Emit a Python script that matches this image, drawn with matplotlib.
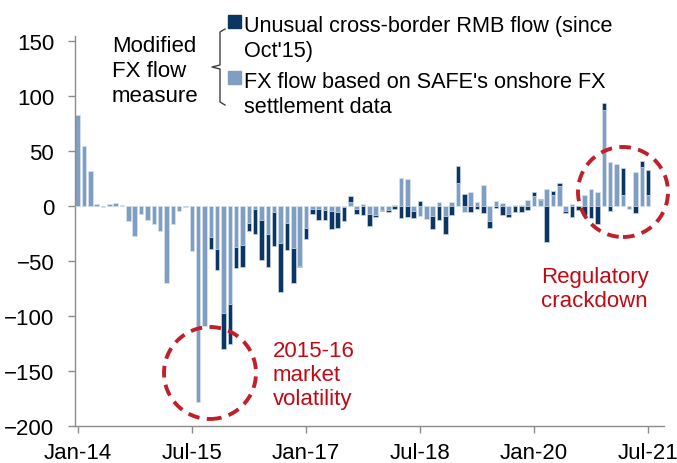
import matplotlib
matplotlib.use("Agg")
import matplotlib.pyplot as plt
import numpy as np
from matplotlib.patches import Ellipse, Rectangle
from matplotlib.lines import Line2D

plt.rcParams['font.family'] = ['Liberation Sans', 'DejaVu Sans']

# Monthly, Jan-14 .. Jul-21 (USD bn)
tick_labels = ["Jan-14", "Jul-15", "Jan-17", "Jul-18", "Jan-20", "Jul-21"]
tick_months = [0, 18, 36, 54, 72, 90]

safe_fx = [83, 55, 32, 2, -1, 2, 3, 1, -13, -27,
           -7, -12, -16, -22, -70, -16, -4, -0.5, -41, -178,
           -109, -28, -39, -97, -89, -37, -35, -15, -2, -12,
           -25, -5, -33, -15, -38, -54, -20, -2, -2, -3,
           -4, -5, -0.5, 4, -2, 2, -7, -7.5, -3.5, -3,
           1, 26, 25, -4, -8.5, -11.5, -9, 4, -9, 3.5,
           21, -5, 13, 4, 19, -13, 5, 3, -7, 1,
           1.5, 6, 9, 6, 16, 10, 18.5, -4, 2, 0,
           10, 16, 13, 88, 40, 38.5, 10, -2.5, 31, 35.5,
           10.5]
unusual_rmb = [0, 0, 0, 0, 0, 0, 0, 0, 0, 0,
               0, 0, 0, 0, 0, 0, 0, 0, 0, 0,
               0, -11, -19, -33, -36, -19, -20, -7, -23, -37,
               -30, -31, -45, -25, -32, -1, -10, -5, -10, -9,
               -17, -15, -13, 5, -5, -8, -11, -2, -1, -2,
               -2, -11, -10, -7, 5, 0, -12, -12, -16, -8,
               16, 11, -5.5, -2, -6, -7, -1.5, -7.5, -2.5, -5.5,
               -5.5, -3.5, 4, 1, -32, 4, 3, -2.5, -10, -3,
               -7.5, -11, -16, 6, -4, 0, 25, 0, -6, 5.5,
               22.5]

light_c = "#7F9EC2"
dark_c = "#0B3664"
red_c = "#C00A14"

W, H = 677, 464
fig = plt.figure(figsize=(W / 100, H / 100), dpi=100)
ax = fig.add_axes([75 / W, (H - 427.3) / H, (664 - 75) / W, (427.3 - 36.8) / H])

x = np.arange(len(safe_fx))
light = np.array(safe_fx, dtype=float)
dark = np.array(unusual_rmb, dtype=float)
same = np.sign(light) == np.sign(dark)
dark_bottom = np.where(same, light, 0.0)

ax.bar(x, light, width=0.72, color=light_c, edgecolor="#D9E3EE", linewidth=0.5, zorder=2)
ax.bar(x, dark, bottom=dark_bottom, width=0.72, color=dark_c, edgecolor="#C9D5E3", linewidth=0.5, zorder=3)

ax.set_xlim(-0.43, 92.5)
ax.set_ylim(-200, 155)
ax.set_yticks(np.arange(-200, 151, 50))
ax.set_xticks(tick_months)
ax.set_xticklabels(tick_labels)
for s in ["top", "right"]:
    ax.spines[s].set_visible(False)
for s in ["left", "bottom"]:
    ax.spines[s].set_color("#8C8C8C")
    ax.spines[s].set_linewidth(1.0)
ax.tick_params(axis="y", direction="out", length=5, width=1, color="#8C8C8C", labelsize=16, pad=10)
ax.tick_params(axis="x", direction="out", length=5, width=1, color="#8C8C8C", labelsize=16, pad=6)

def px(xp, yp):
    return xp / W, 1 - yp / H

# Legend block
for txt, yb in [("Modified", 52), ("FX flow", 77), ("measure", 102)]:
    fig.text(*px(112, yb), txt, fontsize=16, va="baseline", ha="left")
brace_x = [225, 220, 220, 212, 220, 220, 225]
brace_y = [30, 33, 66, 68, 70, 103, 106]
fig.add_artist(Line2D([v / W for v in brace_x], [1 - v / H for v in brace_y],
                      color="#404040", lw=1.0, transform=fig.transFigure))
fig.add_artist(Rectangle(px(228, 29), 13 / W, 13 / H, color=dark_c, transform=fig.transFigure))
fig.add_artist(Rectangle(px(228, 85), 13 / W, 13 / H, color=light_c, transform=fig.transFigure))
for txt, yb in [("Unusual cross-border RMB flow (since", 32), ("Oct'15)", 57),
                ("FX flow based on SAFE's onshore FX", 88), ("settlement data", 113)]:
    fig.text(*px(244, yb), txt, fontsize=15.6, va="baseline", ha="left")

# Annotations
for txt, yb in [("2015-16", 357), ("market", 381), ("volatility", 405)]:
    fig.text(*px(273, yb), txt, fontsize=16, va="baseline", ha="left", color=red_c)
for txt, yb in [("Regulatory", 283), ("crackdown", 307)]:
    fig.text(*px(541, yb), txt, fontsize=16, va="baseline", ha="left", color=red_c)

for cx, cy, r in [(210, 374, 46), (623, 193, 45)]:
    fig.add_artist(Ellipse(px(cx, cy), 2 * r / W, 2 * r / H, fill=False,
                           edgecolor="#C0202A", lw=2.8, linestyle=(0, (3, 1.9)),
                           transform=fig.transFigure, zorder=5))

fig.savefig("out.png", dpi=100)
